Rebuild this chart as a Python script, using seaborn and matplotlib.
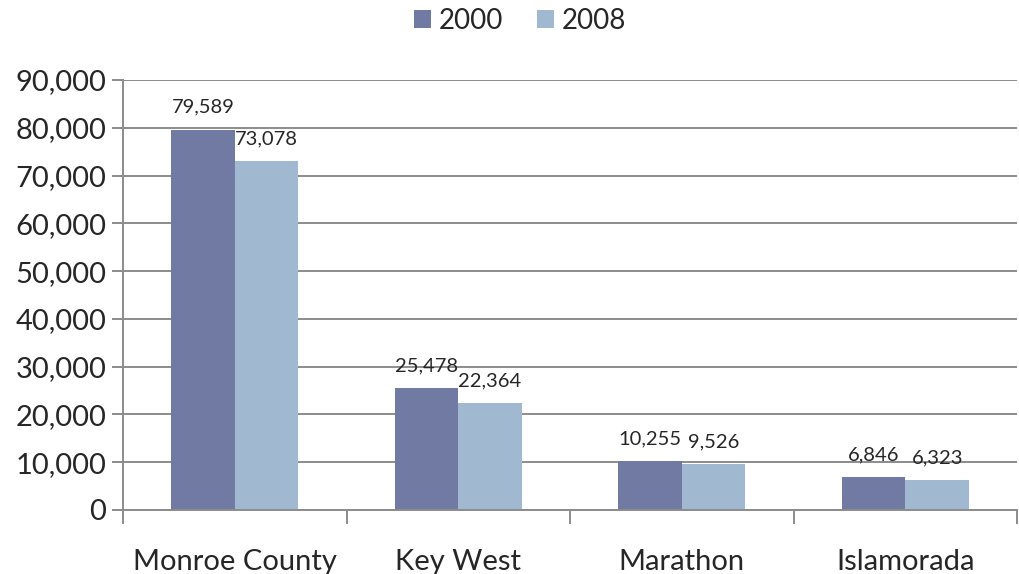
import pandas as pd
import matplotlib.pyplot as plt
import matplotlib.ticker as mticker
import seaborn as sns

# Data
places = ["Monroe County", "Key West", "Marathon", "Islamorada"]
years = ["2000", "2008"]
pop_2000 = [79589, 25478, 10255, 6846]
pop_2008 = [73078, 22364, 9526, 6323]

df = pd.DataFrame({
    "place": places * 2,
    "year": [years[0]] * 4 + [years[1]] * 4,
    "pop": pop_2000 + pop_2008,
})

sns.set_style("white")
plt.rcParams["font.family"] = ["Lato", "DejaVu Sans"]

fig = plt.figure(figsize=(10.2, 5.74), dpi=100)
ax = fig.add_axes([0.1206, 0.1115, 0.8765, 0.7491])

grid_color = "#8c8c8c"
ax.set_axisbelow(True)
ax.yaxis.grid(True, color=grid_color, linewidth=1.4)

sns.barplot(data=df, x="place", y="pop", hue="year", order=places, hue_order=years,
            palette=["#717aa2", "#a0b8d0"], width=0.57, gap=0, saturation=1,
            linewidth=0, ax=ax)

for cont in ax.containers:
    ax.bar_label(cont, labels=[f"{v:,.0f}" for v in cont.datavalues],
                 padding=10, fontsize=14.5)

ax.set_ylim(0, 90000)
ax.set_xlim(-0.5, 3.5)
ax.yaxis.set_major_locator(mticker.MultipleLocator(10000))
ax.yaxis.set_major_formatter(mticker.FuncFormatter(lambda v, p: f"{v:,.0f}"))
ax.tick_params(axis="y", labelsize=21, length=8, width=1.4, color=grid_color, pad=4, left=True)

ax.set_xticks(range(4))
ax.set_xticklabels(places)
ax.set_xticks([-0.5, 0.5, 1.5, 2.5, 3.5], minor=True)
ax.tick_params(axis="x", which="major", length=0, labelsize=21, pad=28)
ax.tick_params(axis="x", which="minor", length=10, width=1.4, color=grid_color, bottom=True)

ax.set_xlabel("")
ax.set_ylabel("")
for s in ["top", "right"]:
    ax.spines[s].set_visible(False)
for s in ["left", "bottom"]:
    ax.spines[s].set_color(grid_color)
    ax.spines[s].set_linewidth(1.4)

handles, labels = ax.get_legend_handles_labels()
ax.get_legend().remove()
fig.legend(handles, labels, loc="upper center", bbox_to_anchor=(0.51, 1.015), ncol=2,
           frameon=False, fontsize=20, handlelength=0.6, handleheight=0.6,
           handletextpad=0.3, columnspacing=1.2, borderaxespad=0.2)

fig.savefig("out.png", dpi=100)
